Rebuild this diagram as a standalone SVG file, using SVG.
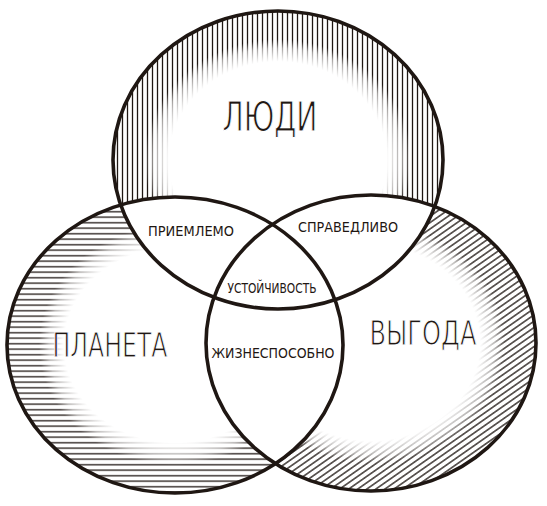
<svg xmlns="http://www.w3.org/2000/svg" width="547" height="506" viewBox="0 0 547 506">
<style>
.ring{fill:none;stroke:#1f1713;stroke-width:3.6}
.big{font-family:"DejaVu Sans","Liberation Sans",sans-serif;fill:#1f1713;font-weight:normal;stroke:#fff;stroke-width:1.1;paint-order:fill}
.small{font-family:"DejaVu Sans","Liberation Sans",sans-serif;fill:#1f1713;font-size:14px}
.h{stroke:#1f1713;stroke-width:1.3}
</style>
<defs>
<pattern id="hv" width="5" height="12" patternUnits="userSpaceOnUse"><line class="h" x1="2.5" y1="0" x2="2.5" y2="12"/></pattern>
<pattern id="hh" width="14" height="5.5" patternUnits="userSpaceOnUse"><line class="h" x1="0" y1="2.7" x2="14" y2="2.7"/></pattern>
<pattern id="hd" width="14" height="5.2" patternUnits="userSpaceOnUse" patternTransform="rotate(-35)"><line class="h" x1="0" y1="2.6" x2="14" y2="2.6"/></pattern>
<radialGradient id="rim" cx=".5" cy=".5" r=".5">
<stop offset="0" stop-color="#000"/><stop offset="0.66" stop-color="#000"/><stop offset="0.75" stop-color="#666"/><stop offset="0.81" stop-color="#fff"/><stop offset="1" stop-color="#fff"/>
</radialGradient>
<mask id="rimTop" maskUnits="userSpaceOnUse" x="0" y="0" width="547" height="506"><ellipse cx="278" cy="160" rx="165" ry="149" fill="url(#rim)"/></mask>
<mask id="rimLeft" maskUnits="userSpaceOnUse" x="0" y="0" width="547" height="506"><ellipse cx="175" cy="345" rx="168" ry="148" fill="url(#rim)"/></mask>
<mask id="rimRight" maskUnits="userSpaceOnUse" x="0" y="0" width="547" height="506"><ellipse cx="371" cy="343" rx="165" ry="148" fill="url(#rim)"/></mask>
<mask id="exTop" maskUnits="userSpaceOnUse" x="0" y="0" width="547" height="506"><ellipse cx="278" cy="160" rx="165" ry="149" fill="#fff"/><ellipse cx="175" cy="345" rx="168" ry="148" fill="#000"/><ellipse cx="371" cy="343" rx="165" ry="148" fill="#000"/></mask>
<mask id="exLeft" maskUnits="userSpaceOnUse" x="0" y="0" width="547" height="506"><ellipse cx="175" cy="345" rx="168" ry="148" fill="#fff"/><ellipse cx="278" cy="160" rx="165" ry="149" fill="#000"/><ellipse cx="371" cy="343" rx="165" ry="148" fill="#000"/></mask>
<mask id="exRight" maskUnits="userSpaceOnUse" x="0" y="0" width="547" height="506"><ellipse cx="371" cy="343" rx="165" ry="148" fill="#fff"/><ellipse cx="278" cy="160" rx="165" ry="149" fill="#000"/><ellipse cx="175" cy="345" rx="168" ry="148" fill="#000"/></mask>
</defs>
<rect width="547" height="506" fill="#fff"/>
<g id="hatching">
<g mask="url(#exTop)"><rect x="0" y="0" width="547" height="506" fill="url(#hv)" mask="url(#rimTop)"/></g>
<g mask="url(#exLeft)"><rect x="0" y="0" width="547" height="506" fill="url(#hh)" mask="url(#rimLeft)"/></g>
<g mask="url(#exRight)"><rect x="0" y="0" width="547" height="506" fill="url(#hd)" mask="url(#rimRight)"/></g>
</g>
<g id="people">
<ellipse class="ring" cx="278" cy="160" rx="165" ry="149"/>
<text class="big" x="270" y="131" font-size="40" text-anchor="middle" textLength="95" lengthAdjust="spacingAndGlyphs">ЛЮДИ</text>
</g>
<g id="planet">
<ellipse class="ring" cx="175" cy="345" rx="168" ry="148"/>
<text class="big" x="110" y="357" font-size="34" text-anchor="middle" textLength="115" lengthAdjust="spacingAndGlyphs">ПЛАНЕТА</text>
</g>
<g id="profit">
<ellipse class="ring" cx="371" cy="343" rx="165" ry="148"/>
<text class="big" x="423" y="345" font-size="33" text-anchor="middle" textLength="107" lengthAdjust="spacingAndGlyphs">ВЫГОДА</text>
</g>
<g id="acceptable"><text class="small" x="191" y="236" text-anchor="middle" textLength="86" lengthAdjust="spacingAndGlyphs">ПРИЕМЛЕМО</text></g>
<g id="fair"><text class="small" x="348" y="232" text-anchor="middle" textLength="100" lengthAdjust="spacingAndGlyphs">СПРАВЕДЛИВО</text></g>
<g id="sustainability"><text class="small" x="272" y="293" font-size="13" text-anchor="middle" textLength="89" lengthAdjust="spacingAndGlyphs">УСТОЙЧИВОСТЬ</text></g>
<g id="viable"><text class="small" x="273" y="358" text-anchor="middle" textLength="123" lengthAdjust="spacingAndGlyphs">ЖИЗНЕСПОСОБНО</text></g>
</svg>
